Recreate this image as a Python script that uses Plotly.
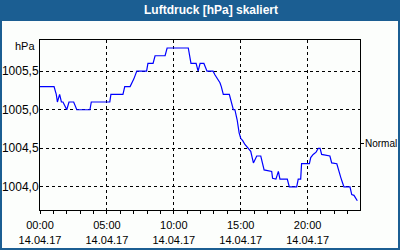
import plotly.graph_objects as go

# ---- data ----
times = ["00:00","01:03","01:13","01:18","01:28","01:36","01:43","02:00","02:10","02:31",
         "02:45","03:44","03:50","05:13","05:18","06:12","06:20","06:44","07:01","07:14",
         "07:58","08:04","08:27","08:36","09:21","09:30","11:05","11:10","11:17","11:40",
         "11:49","11:58","12:15","12:29","12:56","13:05","13:15","13:27","13:33","13:42",
         "14:09","14:20","14:27","14:34","14:44","14:53","15:00","15:09","15:19","15:34",
         "15:45","15:57","16:04","16:12","16:30","16:39","16:45","17:19","17:23","17:38",
         "17:49","17:56","18:29","18:38","19:11","19:18","19:29","19:33","20:08","20:14",
         "20:25","20:38","20:48","20:56","21:03","21:40","21:48","22:11","22:18","22:29",
         "22:37","22:43","23:10","23:18","23:28","23:37","23:43"]
pressure = [1005.30,1005.30,1005.20,1005.10,1005.20,1005.10,1005.10,1005.00,1005.10,1005.10,
            1005.00,1005.00,1005.10,1005.10,1005.20,1005.20,1005.30,1005.30,1005.40,1005.50,
            1005.50,1005.60,1005.60,1005.70,1005.70,1005.80,1005.80,1005.70,1005.60,1005.60,
            1005.50,1005.60,1005.60,1005.50,1005.50,1005.45,1005.40,1005.35,1005.30,1005.20,
            1005.20,1005.06,1005.00,1005.00,1004.87,1004.70,1004.63,1004.60,1004.55,1004.50,
            1004.46,1004.31,1004.35,1004.40,1004.40,1004.29,1004.22,1004.20,1004.11,1004.10,
            1004.20,1004.10,1004.10,1004.00,1004.00,1004.10,1004.10,1004.30,1004.30,1004.38,
            1004.42,1004.45,1004.50,1004.50,1004.42,1004.40,1004.31,1004.30,1004.22,1004.12,
            1004.05,1004.00,1004.00,1003.90,1003.89,1003.84,1003.82]
day = "2017-04-14"
x_start, x_end = "00:00", "23:55"
y_range = [1003.70, 1005.904]
normal_level = 1004.565
normal_label = "Normal"
title_text = "Luftdruck [hPa] skaliert"
unit_label = "hPa"

BLUE = "#1b5e92"
BG = "#fcfefc"
FONT = "Liberation Sans, Arial, sans-serif"

xs = [f"{day} {t}" for t in times]

fig = go.Figure()
fig.add_trace(go.Scatter(x=xs, y=pressure, mode="lines",
                         line=dict(color="#0000ff", width=1.2),
                         showlegend=False, hoverinfo="skip"))
fig.add_trace(go.Scatter(x=[xs[0]], y=[normal_level], yaxis="y2", mode="lines",
                         opacity=0, showlegend=False, hoverinfo="skip"))

fig.update_layout(
    width=400, height=250,
    margin=dict(l=40, r=40, t=40, b=40, autoexpand=False),
    paper_bgcolor=BLUE, plot_bgcolor=BG,
    separators=",.",
    font=dict(family=FONT, size=12, color="black"),
    title=dict(text=title_text, x=211/400, y=1-10/250, xanchor="center", yanchor="middle",
               font=dict(family="Liberation Sans, Arial, sans-serif", size=12, color="white",
                         weight="bold")),
    xaxis=dict(range=[f"{day} {x_start}", f"{day} {x_end}"], type="date",
               tick0=f"{day} 00:00", dtick=5*3600*1000,
               tickformat="%H:%M<br>%d.%m.%y",
               ticks="outside", ticklen=3, tickcolor="black",
               minor=dict(dtick=3600*1000, ticks="outside", ticklen=3, tickcolor="black", showgrid=False),
               showgrid=True, gridcolor="black", griddash="3px,3px", gridwidth=1,
               showline=True, linecolor="black", linewidth=1, mirror=True,
               tickfont=dict(size=11), zeroline=False, automargin=False,
               ticklabelstandoff=2),
    yaxis=dict(range=y_range, tick0=1004.0, dtick=0.5, tickformat=".1f",
               ticks="", showgrid=True, gridcolor="black", griddash="3px,3px", gridwidth=1,
               showline=True, linecolor="black", linewidth=1, mirror=True,
               tickfont=dict(size=12), zeroline=False, automargin=False,
               ticklabelstandoff=-2),
    yaxis2=dict(range=y_range, overlaying="y", side="right",
                tickvals=[normal_level], ticktext=[normal_label],
                ticks="outside", ticklen=3, tickcolor="black",
                showgrid=False, showline=False, zeroline=False,
                tickfont=dict(size=10), automargin=False, ticklabelstandoff=-1),
    shapes=[dict(type="rect", xref="paper", yref="paper",
                 x0=(2-40)/320, x1=(398-40)/320, y0=(210-248)/170, y1=(210-21)/170,
                 fillcolor=BG, line=dict(width=0), layer="below")],
    annotations=[dict(text=unit_label, xref="paper", yref="paper", x=0, y=(210-46)/170,
                      xanchor="right", yanchor="middle", xshift=-3, showarrow=False,
                      font=dict(size=11))],
)

fig.write_html("out.html")
